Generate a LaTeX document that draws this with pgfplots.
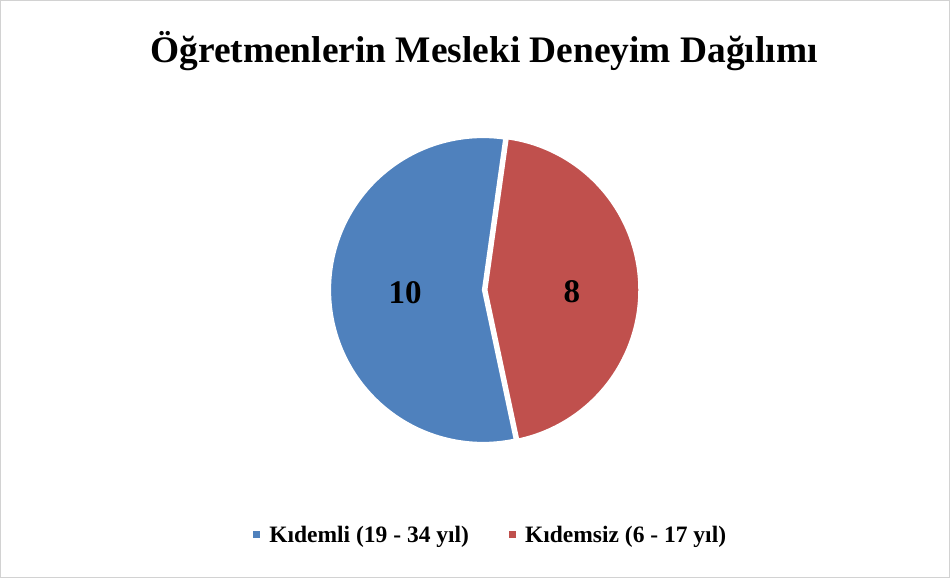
\documentclass[border=0pt]{standalone}
\usepackage{pgfplots}
\pgfplotsset{compat=1.18}
\usepackage{pgfplotstable}
\usepackage{fontspec}
\setmainfont{Liberation Serif}
\definecolor{pieblue}{HTML}{4F81BD}
\definecolor{piered}{HTML}{C0504D}
\pgfplotstableread{
label value
Kidemli 10
Kidemsiz 8
}\piedata
\begin{document}
\begin{tikzpicture}
\useasboundingbox (0,0) rectangle (950pt,578pt);
\draw[color=gray!35, line width=1pt] (0.5pt,0.5pt) rectangle (949.5pt,577.5pt);
\node[font=\bfseries\fontsize{37.4}{40}\selectfont] at (484pt,527pt) {Öğretmenlerin Mesleki Deneyim Dağılımı};
\pgfplotstablegetelem{0}{value}\of\piedata \let\va\pgfplotsretval
\pgfplotstablegetelem{1}{value}\of\piedata \let\vb\pgfplotsretval
\pgfmathsetmacro\tot{\va+\vb}
\pgfmathsetmacro\aS{82}
\pgfmathsetmacro\aM{\aS+360*\va/\tot}
\pgfmathsetmacro\aE{\aM+360*\vb/\tot}
\pgfmathsetmacro\mA{(\aS+\aM)/2}
\pgfmathsetmacro\mB{(\aM+\aE)/2}
\pgfmathsetmacro\ex{0.022}
\begin{axis}[at={(483pt,288pt)}, anchor=center, scale only axis,
  width=306pt, height=306pt, xmin=-1, xmax=1, ymin=-1, ymax=1,
  hide axis, clip=false,
  legend columns=2,
  legend image code/.code={\fill[#1, draw=none] (0pt,-3.5pt) rectangle (7pt,3.5pt); \path (7pt,0pt) -- (13pt,0pt);},
  legend style={at={(0.525,-0.30)}, anchor=center, draw=none, fill=none,
    font=\bfseries\fontsize{23.5}{25}\selectfont,
    /tikz/every even column/.append style={column sep=38pt}},
  ]
\addplot[fill=pieblue, draw=white, line width=2.2pt, domain=\aS:\aM, samples=120, variable=\t]
  ({cos(\t)},{sin(\t)}) -- (axis cs:0,0) -- cycle;
\addlegendentry{Kıdemli (19 - 34 yıl)}
\addplot[fill=piered, draw=white, line width=2.2pt, domain=\aM:\aE, samples=120, variable=\t]
  ({\ex*cos(\mB)+cos(\t)},{\ex*sin(\mB)+sin(\t)}) -- (axis cs:{\ex*cos(\mB)},{\ex*sin(\mB)}) -- cycle;
\addlegendentry{Kıdemsiz (6 - 17 yıl)}
\node[font=\bfseries\fontsize{33}{35}\selectfont] at (axis cs:{0.51*cos(\mA)},{0.51*sin(\mA)}) {\va};
\node[font=\bfseries\fontsize{33}{35}\selectfont] at (axis cs:{\ex*cos(\mB)+0.56*cos(\mB)},{\ex*sin(\mB)+0.56*sin(\mB)-0.03}) {\vb};
\end{axis}
\end{tikzpicture}
\end{document}
